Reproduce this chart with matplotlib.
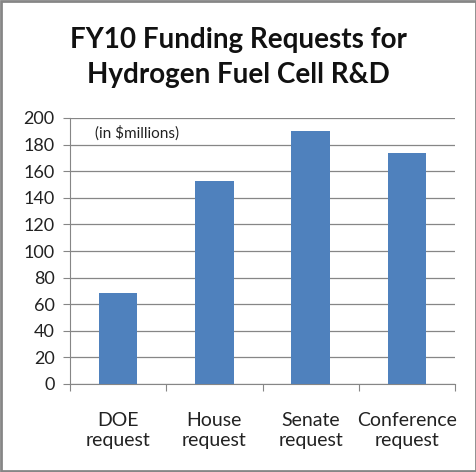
import matplotlib.pyplot as plt
from matplotlib.patches import Rectangle

categories = ["DOE\nrequest", "House\nrequest", "Senate\nrequest", "Conference\nrequest"]
funding = [68.2, 153, 190, 174]
yticks = [0, 20, 40, 60, 80, 100, 120, 140, 160, 180, 200]

plt.rcParams['font.family'] = ['Lato', 'DejaVu Sans']

fig = plt.figure(figsize=(4.77, 4.72), dpi=100)
ax = fig.add_axes([70 / 477, 1 - 384 / 472, 385 / 477, 266 / 472])

x = range(len(categories))
ax.bar(x, funding, width=0.4, color='#4f81bd', zorder=3)

ax.set_xlim(-0.5, 3.5)
ax.set_ylim(0, 200)
ax.set_yticks(yticks)
ax.set_yticklabels([str(v) for v in yticks], fontsize=13, color='#222222')
ax.grid(axis='y', color='#868686', linewidth=0.9, zorder=0)

# category labels sit between the tick marks
ax.set_xticks([-0.5, 0.5, 1.5, 2.5, 3.5])
ax.set_xticklabels([])
ax.set_xticks(list(x), minor=True)
ax.set_xticklabels(categories, minor=True, fontsize=14, color='#222222', linespacing=1.25)
ax.tick_params(axis='x', which='minor', length=0, pad=20)
ax.tick_params(axis='x', which='major', length=5, color='#868686', direction='out')
ax.tick_params(axis='y', length=5, color='#868686', pad=6)

for side in ['top', 'right']:
    ax.spines[side].set_visible(False)
ax.spines['left'].set_color('#868686')
ax.spines['bottom'].set_color('#868686')

ax.text(0.065, 0.945, "(in $millions)", transform=ax.transAxes, fontsize=11,
        color='#222222', va='center')

fig.text(0.5, 1 - 40 / 472, "FY10 Funding Requests for", ha='center', va='center',
         fontsize=20, fontweight='bold', color='#111111')
fig.text(0.5, 1 - 75 / 472, "Hydrogen Fuel Cell R&D", ha='center', va='center',
         fontsize=20, fontweight='bold', color='#111111')

fig.patches.append(Rectangle((0.002, 0.002), 0.996, 0.996, transform=fig.transFigure,
                             fill=False, edgecolor='#868686', linewidth=2))

fig.savefig("out.png", dpi=100)
